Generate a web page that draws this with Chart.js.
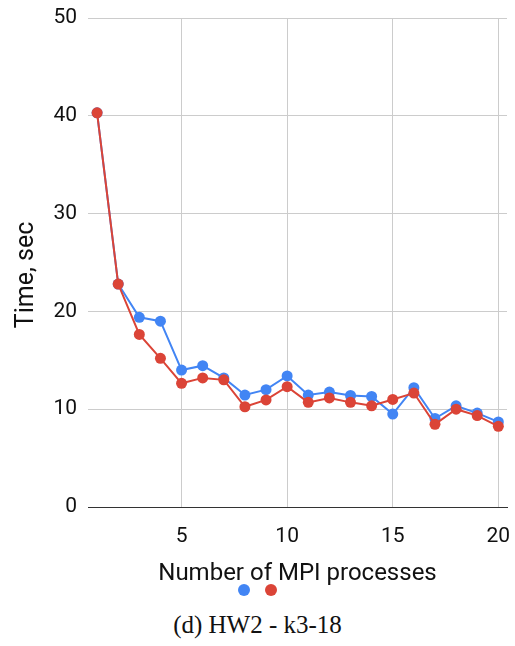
<!DOCTYPE html>
<html>
<head>
<meta charset="utf-8">
<script src="https://cdn.jsdelivr.net/npm/chart.js@4.4.1/dist/chart.umd.min.js"></script>
<style>
  body { margin: 0; background: #fff; }
  #wrap { position: relative; width: 515px; height: 646px; overflow: hidden; }
  #chart_box { position: absolute; left: 0; top: 0; width: 515px; height: 600px; }
  .legend_dot { position: absolute; width: 12px; height: 12px; border-radius: 50%; top: 584px; }
  #caption {
    position: absolute; left: 0; width: 515px; top: 611px; text-align: center;
    font-family: "Liberation Serif", "DejaVu Serif", serif; font-size: 25px; color: #111;
  }
</style>
</head>
<body>
<div id="wrap">
  <div id="chart_box"><canvas id="time_chart" width="515" height="600"></canvas></div>
  <span class="legend_dot" style="left:238px; background:#4285F4;"></span>
  <span class="legend_dot" style="left:265px; background:#DB4437;"></span>
  <div id="caption">(d) HW2 - k3-18</div>
</div>
<script>
// number of MPI processes on x axis
var procs = [1, 2, 3, 4, 5, 6, 7, 8, 9, 10, 11, 12, 13, 14, 15, 16, 17, 18, 19, 20];

// run times, sec
var blue_times = [40.3, 22.8, 19.4, 19.0, 14.0, 14.45, 13.2, 11.45, 12.0, 13.4,
                  11.45, 11.75, 11.4, 11.3, 9.5, 12.2, 9.05, 10.35, 9.6, 8.7];
var red_times  = [40.3, 22.8, 17.65, 15.2, 12.65, 13.2, 13.0, 10.25, 10.95, 12.3,
                  10.7, 11.15, 10.7, 10.35, 11.0, 11.65, 8.45, 10.0, 9.35, 8.25];

var x_ticks = [5, 10, 15, 20];
var x_title = "Number of MPI processes";
// trailing nbsp pushes the rotated title a bit lower, like the original
var y_title = "Time, sec\u00a0\u00a0\u00a0\u00a0";

function to_points(vals) {
    return procs.map(function (p, i) { return {x: p, y: vals[i]}; });
}

var ctx = document.getElementById("time_chart").getContext("2d");

var time_chart = new Chart(ctx, {
    type: "line",
    data: {
        datasets: [
            {   // red drawn on top
                label: "red",
                data: to_points(red_times),
                borderColor: "#DB4437",
                backgroundColor: "#DB4437",
                borderWidth: 2,
                pointRadius: 5.5,
                pointBorderWidth: 0,
                tension: 0
            },
            {
                label: "blue",
                data: to_points(blue_times),
                borderColor: "#4285F4",
                backgroundColor: "#4285F4",
                borderWidth: 2,
                pointRadius: 5.5,
                pointBorderWidth: 0,
                tension: 0
            }
        ]
    },
    options: {
        responsive: false,
        animation: false,
        devicePixelRatio: 1,
        layout: { padding: { top: 18, right: 8, left: 0, bottom: 0 } },
        plugins: {
            legend: { display: false },
            tooltip: { enabled: false }
        },
        scales: {
            x: {
                type: "linear",
                min: 0.57,
                max: 20.41,
                afterBuildTicks: function (scale) {
                    scale.ticks = x_ticks.map(function (v) { return {value: v}; });
                },
                afterFit: function (scale) {
                    scale.height = 93;
                    scale.paddingLeft = 0;
                    scale.paddingRight = 0;
                },
                grid: { color: "#cccccc", lineWidth: 1, drawTicks: false },
                border: { display: true, color: "#333333", width: 1 },
                ticks: {
                    padding: 17,
                    color: "#111",
                    font: { family: "Roboto", size: 21 },
                    maxRotation: 0
                },
                title: {
                    display: true,
                    text: x_title,
                    color: "#111",
                    font: { family: "Roboto", size: 24 },
                    padding: { top: 0, bottom: 12 }
                }
            },
            y: {
                min: 0,
                max: 50,
                afterFit: function (scale) {
                    scale.width = 88;
                    scale.paddingTop = 0;
                    scale.paddingBottom = 0;
                },
                grid: { color: "#cccccc", lineWidth: 1, drawTicks: false },
                border: { display: false },
                ticks: {
                    stepSize: 10,
                    padding: 11,
                    color: "#111",
                    font: { family: "Roboto", size: 21 }
                },
                title: {
                    display: true,
                    text: y_title,
                    color: "#111",
                    font: { family: "Roboto", size: 25 },
                    padding: { top: 12, bottom: 0 }
                }
            }
        }
    }
});
</script>
</body>
</html>
